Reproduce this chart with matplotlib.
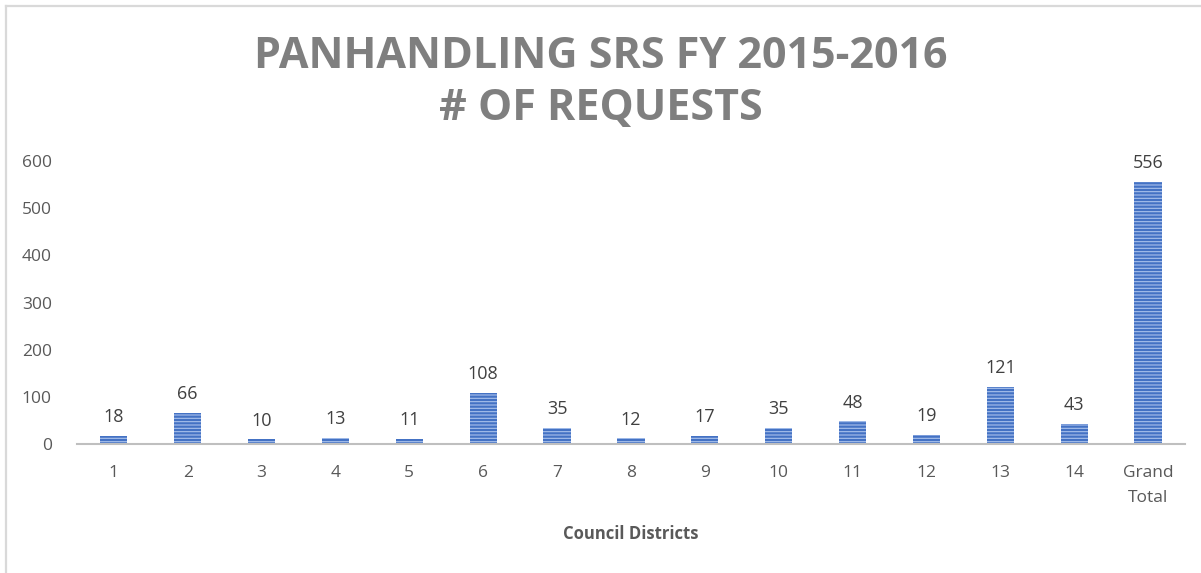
import matplotlib
matplotlib.use('Agg')
import matplotlib.pyplot as plt
from matplotlib.lines import Line2D

# 数据
districts = ['1', '2', '3', '4', '5', '6', '7', '8', '9', '10', '11', '12', '13', '14', 'Grand\nTotal']
requests = [18, 66, 10, 13, 11, 108, 35, 12, 17, 35, 48, 19, 121, 43, 556]
y_ticks = [0, 100, 200, 300, 400, 500, 600]

plt.rcParams['font.family'] = ['Open Sans', 'DejaVu Sans']
plt.rcParams['hatch.linewidth'] = 0.8

fig = plt.figure(figsize=(12.01, 5.73), dpi=100)
ax = fig.add_axes([0.064, 0.2251, 0.9227, 0.4939])

x = list(range(len(districts)))
ax.bar(x, requests, width=0.37, color='#4472c4', edgecolor='#a9c1ec',
       linewidth=0, hatch='-----')

for xi, v in zip(x, requests):
    ax.annotate(str(v), (xi, v), xytext=(0, 7), textcoords='offset points',
                ha='center', va='bottom', fontsize=13, color='#404040')

ax.set_xlim(-0.5, len(districts) - 0.5)
ax.set_ylim(0, 600)
ax.set_yticks(y_ticks)
ax.set_xticks(x)
ax.set_xticklabels(districts, linespacing=1.8, va='top')
ax.tick_params(axis='both', length=0, labelsize=12.5, labelcolor='#595959')
ax.tick_params(axis='y', pad=18)
ax.tick_params(axis='x', pad=15)
for s in ['top', 'right', 'left']:
    ax.spines[s].set_visible(False)
ax.spines['bottom'].set_color('#bfbfbf')
ax.spines['bottom'].set_linewidth(1.5)

ax.set_xlabel('Council Districts', fontsize=12, fontweight='bold', color='#595959', labelpad=13)

fig.text(0.5, 0.902, 'PANHANDLING SRS FY 2015-2016', ha='center', va='center',
         fontsize=31, fontweight='bold', color='#7f7f7f')
fig.text(0.5, 0.811, '# OF REQUESTS', ha='center', va='center',
         fontsize=31, fontweight='bold', color='#7f7f7f')

# 边框
fig.add_artist(Line2D([6 / 1201, 1], [1 - 6 / 573, 1 - 6 / 573], color='#d9d9d9', lw=1.6))
fig.add_artist(Line2D([6 / 1201, 6 / 1201], [0, 1 - 6 / 573], color='#d9d9d9', lw=1.6))

fig.savefig('out.png', dpi=100)
